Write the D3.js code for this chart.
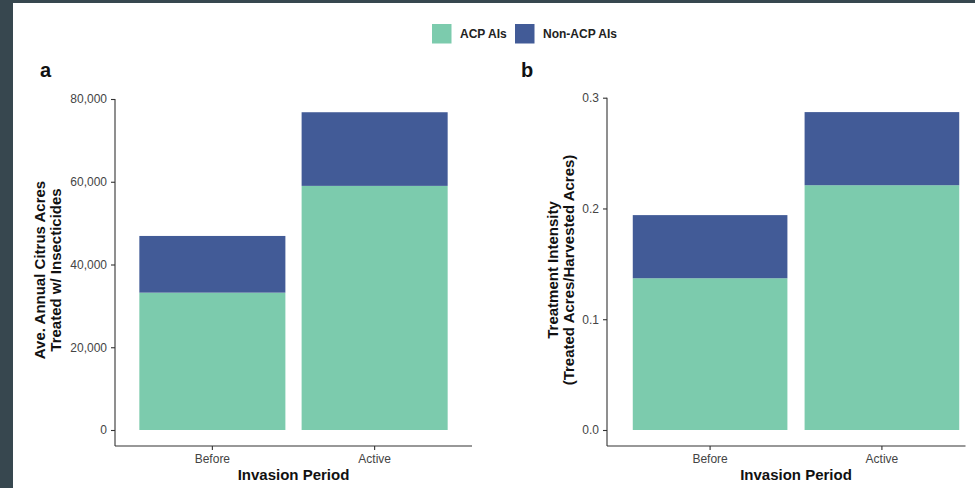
<!DOCTYPE html>
<html>
<head>
<meta charset="utf-8">
<script src="https://cdn.jsdelivr.net/npm/d3@7"></script>
<style>
  body { margin: 0; background: #37474f; }
  svg { display: block; font-family: "Liberation Sans", Arial, sans-serif; }
</style>
</head>
<body>
<div id="chart"></div>
<script>
// data
const categories = ['Before', 'Active'];
const seriesKeys = ['ACP AIs', 'Non-ACP AIs'];
const acresACP = [33200, 59000];
const acresNonACP = [13700, 17800];
const intensityACP = [0.137, 0.221];
const intensityNonACP = [0.057, 0.066];
const acresTicks = [0, 20000, 40000, 60000, 80000];
const intensityTicks = [0, 0.1, 0.2, 0.3];

const colors = { 'ACP AIs': '#7ccbad', 'Non-ACP AIs': '#425b97' };
const width = 975, height = 488;

let svg = d3.select('#chart').append('svg').attr('width', width).attr('height', height);

// white page over the dark frame
svg.append('rect').attr('x', 13).attr('y', 3).attr('width', width - 13).attr('height', height - 3).attr('fill', '#fff');

// legend
const legendX = [432, 515];
seriesKeys.forEach(function (k, i) {
  svg.append('rect').attr('x', legendX[i]).attr('y', 24).attr('width', 19.5).attr('height', 19.5).attr('fill', colors[k]);
  svg.append('text').attr('x', legendX[i] + 28).attr('y', 34).attr('dominant-baseline', 'central')
    .attr('font-size', 12).attr('font-weight', 'bold').attr('fill', '#222').text(k);
});

function drawPanel(opt) {
  let rows = categories.map(function (c, i) {
    return { cat: c, 'ACP AIs': opt.acp[i], 'Non-ACP AIs': opt.non[i] };
  });
  let stacked = d3.stack().keys(seriesKeys)(rows);

  let x = d3.scaleBand().domain(categories).range([opt.left, opt.right]).paddingInner(0.1).paddingOuter(0.15);
  let y = d3.scaleLinear().domain([0, opt.max]).range([430, opt.top]);

  let g = svg.append('g');

  // bars
  g.selectAll('g.layer')
    .data(stacked)
    .enter()
    .append('g')
    .attr('fill', function (d) { return colors[d.key]; })
    .selectAll('rect')
    .data(function (d) { return d; })
    .enter()
    .append('rect')
    .attr('x', function (d) { return x(d.data.cat); })
    .attr('width', x.bandwidth())
    .attr('y', function (d) { return y(d[1]); })
    .attr('height', function (d) { return y(d[0]) - y(d[1]); });

  // axes
  let yAxis = d3.axisLeft(y).tickValues(opt.ticks).tickFormat(opt.fmt).tickSize(4).tickPadding(4).tickSizeOuter(0);
  let yg = g.append('g').attr('transform', 'translate(' + opt.left + ',0)').call(yAxis);
  let xAxis = d3.axisBottom(x).tickSize(4).tickPadding(4).tickSizeOuter(0);
  let xg = g.append('g').attr('transform', 'translate(0,446)').call(xAxis);
  [yg, xg].forEach(function (a) {
    a.select('.domain').remove();
    a.selectAll('.tick line').attr('stroke', '#333').attr('stroke-width', 1.1);
    a.selectAll('.tick text').attr('fill', '#444').attr('font-size', 12).attr('font-family', null);
  });
  g.append('line').attr('x1', opt.left).attr('x2', opt.left).attr('y1', opt.top).attr('y2', 446)
    .attr('stroke', '#333').attr('stroke-width', 1.1);
  g.append('line').attr('x1', opt.left).attr('x2', opt.lineEnd).attr('y1', 446).attr('y2', 446)
    .attr('stroke', '#333').attr('stroke-width', 1.1);

  // titles
  g.append('text').attr('x', (opt.left + opt.right) / 2).attr('y', 479.5).attr('text-anchor', 'middle')
    .attr('font-size', 15).attr('font-weight', 'bold').attr('fill', '#111').text('Invasion Period');
  opt.yTitle.forEach(function (t, i) {
    g.append('text')
      .attr('transform', 'translate(' + opt.yTitleX[i] + ',270) rotate(-90)')
      .attr('text-anchor', 'middle').attr('dominant-baseline', 'central')
      .attr('font-size', 15).attr('font-weight', 'bold').attr('fill', '#111').text(t);
  });
  g.append('text').attr('x', opt.tag[0]).attr('y', opt.tag[1]).attr('font-size', 20).attr('font-weight', 'bold')
    .attr('fill', '#111').text(opt.label);
}

drawPanel({
  acp: acresACP, non: acresNonACP, max: 80000, ticks: acresTicks, fmt: d3.format(','),
  left: 115, right: 472, lineEnd: 472, top: 99,
  yTitle: ['Ave. Annual Citrus Acres', 'Treated w/ Insecticides'], yTitleX: [39, 55.5],
  label: 'a', tag: [40, 77]
});

drawPanel({
  acp: intensityACP, non: intensityNonACP, max: 0.3, ticks: intensityTicks, fmt: d3.format('.1f'),
  left: 607, right: 985, lineEnd: 965.5, top: 97.7,
  yTitle: ['Treatment Intensity', '(Treated Acres/Harvested Acres)'], yTitleX: [552, 568.5],
  label: 'b', tag: [521, 76.7]
});
</script>
</body>
</html>
